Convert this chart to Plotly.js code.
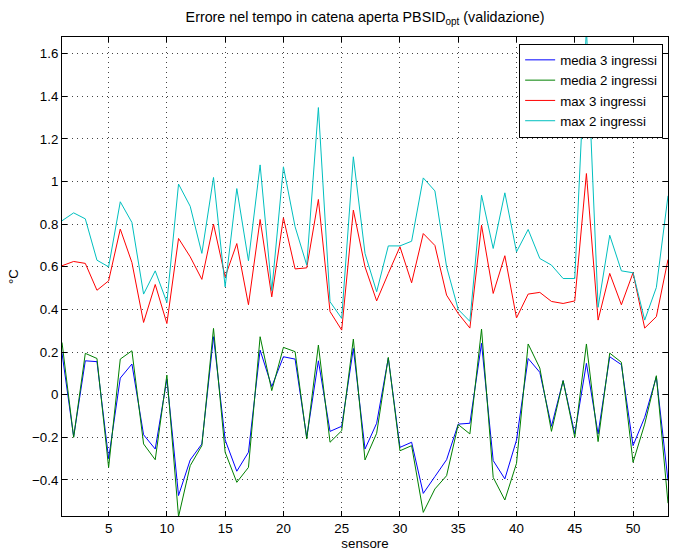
<!DOCTYPE html>
<html>
<head>
<meta charset="utf-8">
<script src="https://cdn.plot.ly/plotly-3.0.1.min.js"></script>
<style>html,body{margin:0;padding:0;background:#fff;}#chart{width:676px;height:551px;}</style>
</head>
<body>
<div id="chart"></div>
<script>
const sensori = Array.from({length: 53}, (_, i) => i + 1);

const media3 = [0.195,-0.197,0.159,0.155,-0.30,0.078,0.144,-0.188,-0.255,0.073,
  -0.473,-0.306,-0.231,0.272,-0.212,-0.359,-0.27,0.209,0.038,0.178,
  0.167,-0.2,0.159,-0.172,-0.148,0.217,-0.255,-0.134,0.172,-0.247,
  -0.223,-0.463,-0.384,-0.305,-0.138,-0.134,0.241,-0.309,-0.395,-0.213,
  0.170,0.105,-0.148,0.066,-0.184,0.147,-0.184,0.178,0.141,-0.239,
  -0.106,0.084,-0.403];

const media2 = [0.245,-0.2,0.194,0.17,-0.341,0.167,0.206,-0.231,-0.305,0.092,
  -0.572,-0.333,-0.239,0.311,-0.27,-0.411,-0.341,0.272,0.019,0.222,
  0.202,-0.208,0.233,-0.223,-0.169,0.261,-0.306,-0.181,0.175,-0.263,
  -0.239,-0.552,-0.442,-0.38,-0.14,-0.184,0.308,-0.388,-0.494,-0.322,
  0.238,0.125,-0.172,0.066,-0.2,0.238,-0.22,0.195,0.152,-0.317,
  -0.138,0.089,-0.509];

const max3 = [0.605,0.625,0.616,0.49,0.534,0.777,0.62,0.339,0.517,0.334,
  0.733,0.647,0.541,0.80,0.553,0.709,0.422,0.822,0.459,0.83,
  0.59,0.595,0.916,0.39,0.303,0.866,0.60,0.44,0.569,0.694,
  0.525,0.756,0.70,0.467,0.381,0.3125,0.795,0.475,0.652,0.36,
  0.472,0.48,0.4375,0.428,0.44,1.0375,0.35,0.569,0.422,0.572,
  0.3125,0.366,0.634];

const max2 = [0.816,0.853,0.825,0.631,0.60,0.905,0.808,0.472,0.581,0.433,
  0.988,0.884,0.663,1.019,0.506,0.967,0.628,1.078,0.488,1.069,
  0.788,0.608,1.347,0.436,0.358,1.116,0.663,0.483,0.698,0.698,
  0.72,1.017,0.956,0.60,0.40,0.344,0.936,0.686,0.947,0.67,
  0.775,0.639,0.608,0.545,0.545,1.72,0.41,0.748,0.581,0.572,
  0.35,0.503,0.933];

const seriesNames = ["media 3 ingressi", "media 2 ingressi", "max 3 ingressi", "max 2 ingressi"];
const seriesColors = ["#0000ff", "#008000", "#ff0000", "#00bfbf"];
const seriesData = [media3, media2, max3, max2];

const traces = seriesData.map((d, k) => ({
  type: "scatter", mode: "lines", x: sensori, y: d,
  name: seriesNames[k], line: {color: seriesColors[k], width: 1}
}));

const fontFam = "Liberation Sans, Arial, Helvetica, sans-serif";
const fs = 13.3;
const axisCommon = {
  showline: true, linecolor: "#000", linewidth: 1, mirror: "allticks",
  ticks: "inside", ticklen: 5, tickcolor: "#000", tickwidth: 1,
  showgrid: true, gridcolor: "#444", griddash: "1px,4px", gridwidth: 1,
  zeroline: false, automargin: false,
  tickfont: {family: fontFam, size: fs, color: "#000"}
};

const layout = {
  width: 676, height: 551,
  margin: {l: 62, r: 8, t: 37, b: 35},
  paper_bgcolor: "#fff", plot_bgcolor: "#fff",
  font: {family: fontFam, size: fs, color: "#000"},
  title: {text: "Errore nel tempo in catena aperta PBSID<sub>opt</sub> (validazione)",
    font: {family: fontFam, size: 14.3, color: "#000"},
    x: 0.5, xref: "paper", y: 1 - 17/551, yref: "container", yanchor: "middle"},
  xaxis: Object.assign({}, axisCommon, {
    range: [1, 53], tick0: 5, dtick: 5,
    title: {text: "sensore", font: {family: fontFam, size: fs, color: "#000"}, standoff: 2}
  }),
  yaxis: Object.assign({}, axisCommon, {
    range: [-0.569, 1.678], tick0: 0, dtick: 0.2,
    title: {text: "°C", font: {family: fontFam, size: fs, color: "#000"}, standoff: 10}
  }),
  showlegend: true,
  legend: {x: 0.992, y: 0.986, xanchor: "right", yanchor: "top",
    bgcolor: "#fff", bordercolor: "#000", borderwidth: 1,
    font: {family: fontFam, size: fs, color: "#000"}}
};

Plotly.newPlot("chart", traces, layout, {displayModeBar: false, staticPlot: true});
</script>
</body>
</html>
